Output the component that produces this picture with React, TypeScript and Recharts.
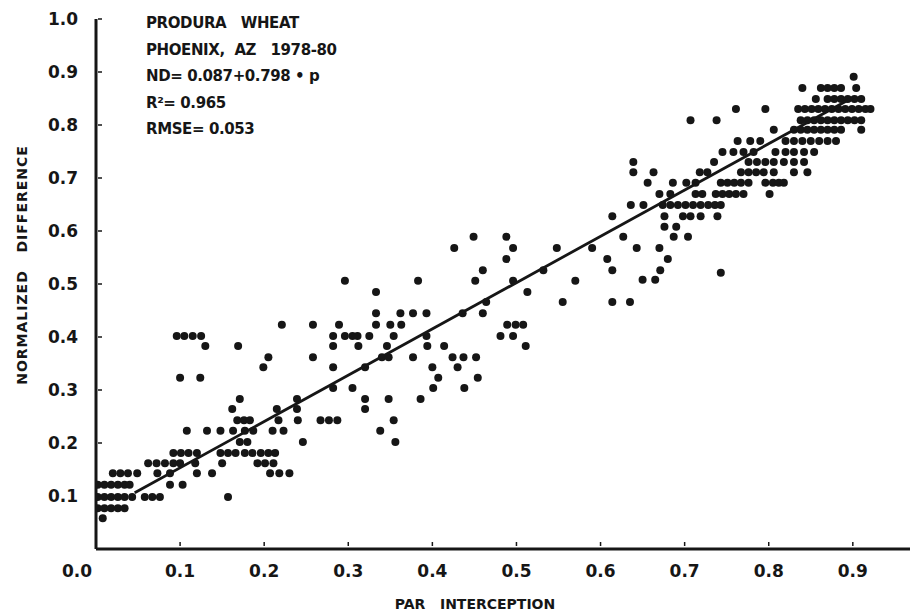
import { ScatterChart, Scatter, XAxis, YAxis, Label } from 'recharts';

const xTicks = [0, 0.1, 0.2, 0.3, 0.4, 0.5, 0.6, 0.7, 0.8, 0.9];
const yTicks = [0.1, 0.2, 0.3, 0.4, 0.5, 0.6, 0.7, 0.8, 0.9, 1.0];

const noteLines = [
  'PRODURA   WHEAT',
  'PHOENIX,  AZ   1978-80',
  'ND= 0.087+0.798 • p',
  'R²= 0.965',
  'RMSE= 0.053',
];

// rows: [ND, PAR values plotted at that ND]
const lowParRows: [number, number[]][] = [
  [0.058, [0.008]],
  [0.077, [0.002, 0.01, 0.018, 0.026, 0.034]],
  [0.098, [0.002, 0.01, 0.018, 0.026, 0.034, 0.043, 0.058, 0.067, 0.076, 0.157]],
  [0.121, [0.002, 0.01, 0.018, 0.026, 0.034, 0.04, 0.088, 0.103]],
  [0.143, [0.02, 0.029, 0.038, 0.049, 0.073, 0.088, 0.12, 0.138, 0.207, 0.218, 0.23]],
  [0.162, [0.062, 0.072, 0.082, 0.092, 0.1, 0.118, 0.15, 0.192, 0.201, 0.211]],
  [0.181, [0.092, 0.101, 0.11, 0.12, 0.148, 0.157, 0.166, 0.177, 0.186, 0.196, 0.205, 0.213]],
  [0.202, [0.171, 0.18, 0.246]],
  [0.223, [0.108, 0.132, 0.148, 0.163, 0.177, 0.187, 0.21, 0.223]],
  [0.243, [0.168, 0.176, 0.183, 0.217, 0.24]],
  [0.264, [0.162, 0.215, 0.239]],
  [0.283, [0.171, 0.239]],
  [0.323, [0.1, 0.124]],
  [0.343, [0.199]],
  [0.362, [0.205]],
  [0.383, [0.13, 0.169]],
  [0.402, [0.096, 0.105, 0.115, 0.125]],
  [0.423, [0.221]],
];

const midParRows: [number, number[]][] = [
  [0.202, [0.356]],
  [0.223, [0.338]],
  [0.243, [0.267, 0.277, 0.287, 0.354]],
  [0.264, [0.32]],
  [0.283, [0.32, 0.348, 0.386]],
  [0.304, [0.282, 0.305, 0.401, 0.438]],
  [0.323, [0.407, 0.454]],
  [0.343, [0.282, 0.32, 0.4, 0.43]],
  [0.362, [0.258, 0.34, 0.348, 0.377, 0.424, 0.437, 0.452]],
  [0.383, [0.282, 0.312, 0.346, 0.394, 0.414, 0.511]],
  [0.402, [0.282, 0.296, 0.305, 0.311, 0.325, 0.354, 0.393, 0.481, 0.496]],
  [0.423, [0.258, 0.289, 0.333, 0.35, 0.363, 0.489, 0.499, 0.508]],
  [0.445, [0.333, 0.362, 0.377, 0.393, 0.436, 0.46]],
  [0.466, [0.464, 0.555]],
  [0.485, [0.333, 0.513]],
  [0.506, [0.296, 0.383, 0.451, 0.496, 0.57]],
  [0.526, [0.46, 0.532]],
  [0.547, [0.488]],
  [0.568, [0.426, 0.496, 0.548, 0.59]],
  [0.589, [0.449, 0.488]],
];

const highParRows: [number, number[]][] = [
  [0.466, [0.614, 0.635]],
  [0.508, [0.65, 0.665]],
  [0.521, [0.743]],
  [0.526, [0.614, 0.671]],
  [0.547, [0.608, 0.68]],
  [0.568, [0.643, 0.67]],
  [0.589, [0.627, 0.687, 0.704]],
  [0.608, [0.676, 0.69]],
  [0.628, [0.614, 0.676, 0.698, 0.707, 0.719, 0.739]],
  [0.649, [0.636, 0.651, 0.674, 0.683, 0.692, 0.701, 0.71, 0.719, 0.728, 0.736, 0.743]],
  [0.67, [0.67, 0.683, 0.713, 0.721, 0.737, 0.745, 0.753, 0.761, 0.77, 0.801]],
  [0.691, [0.656, 0.686, 0.702, 0.713, 0.743, 0.751, 0.759, 0.767, 0.776, 0.796, 0.805, 0.812, 0.818]],
  [0.711, [0.639, 0.663, 0.718, 0.727, 0.767, 0.776, 0.785, 0.794, 0.806, 0.83, 0.846]],
  [0.73, [0.639, 0.735, 0.776, 0.786, 0.796, 0.806, 0.818, 0.83, 0.842]],
  [0.749, [0.745, 0.758, 0.77, 0.782, 0.808, 0.82, 0.83, 0.842, 0.854]],
  [0.77, [0.763, 0.778, 0.79, 0.82, 0.83, 0.84, 0.85, 0.86, 0.87, 0.88]],
  [0.791, [0.806, 0.83, 0.838, 0.846, 0.854, 0.862, 0.87, 0.878, 0.886, 0.91]],
  [0.809, [0.707, 0.738, 0.838, 0.846, 0.854, 0.862, 0.87, 0.878, 0.886, 0.894, 0.902, 0.91]],
  [0.83, [0.761, 0.796, 0.835, 0.843, 0.851, 0.859, 0.867, 0.875, 0.883, 0.891, 0.899, 0.907, 0.915, 0.921]],
  [0.849, [0.856, 0.87, 0.878, 0.886, 0.894, 0.902, 0.91]],
  [0.87, [0.84, 0.862, 0.87, 0.878, 0.886, 0.904]],
  [0.891, [0.901]],
];

// regression line as drawn on the scan (end points)
const fitLine = [
  { p: 0.046, nd: 0.106 },
  { p: 0.9, nd: 0.852 },
];

const INK = '#161616';
const FONT = '"DejaVu Sans", sans-serif';

function toPoints(rows: [number, number[]][]) {
  return rows.flatMap(([nd, ps]) => ps.map((p) => ({ p, nd })));
}

function Dot(props: any) {
  const { cx, cy } = props;
  if (cx == null || cy == null) return <g />;
  return <circle cx={cx} cy={cy} r={4} fill={INK} />;
}

function XTick(props: any) {
  const { x, y, payload } = props;
  const v = payload.value as number;
  return (
    <g>
      {v > 0 && <line x1={x} x2={x} y1={y - 7} y2={y - 3} stroke={INK} strokeWidth={1.5} />}
      <text
        x={x + (v === 0 ? -19 : 0)}
        y={y + 28}
        textAnchor="middle"
        fontFamily={FONT}
        fontWeight="bold"
        fontSize={17}
        fill={INK}
      >
        {v.toFixed(1)}
      </text>
    </g>
  );
}

function YTick(props: any) {
  const { x, y, payload } = props;
  const v = payload.value as number;
  return (
    <g>
      <line x1={x + 20} x2={x + 24} y1={y} y2={y} stroke={INK} strokeWidth={1.5} />
      <text
        x={x}
        y={y + 6}
        textAnchor="end"
        fontFamily={FONT}
        fontWeight="bold"
        fontSize={17}
        fill={INK}
      >
        {v.toFixed(1)}
      </text>
    </g>
  );
}

function YTitle(props: any) {
  const { viewBox } = props;
  const cx = viewBox.x + 22;
  const cy = viewBox.y + viewBox.height / 2 - 19;
  return (
    <text
      x={cx}
      y={cy}
      transform={`rotate(-90 ${cx} ${cy})`}
      textAnchor="middle"
      dominantBaseline="central"
      fontFamily={FONT}
      fontWeight="bold"
      fontSize={14}
      letterSpacing={1}
      fill={INK}
      style={{ whiteSpace: 'pre' }}
    >
      NORMALIZED   DIFFERENCE
    </text>
  );
}

function XTitle(props: any) {
  const { viewBox } = props;
  const cx = viewBox.x + viewBox.width / 2 - 28;
  return (
    <text
      x={cx}
      y={viewBox.y + 60}
      textAnchor="middle"
      fontFamily={FONT}
      fontWeight="bold"
      fontSize={14}
      fill={INK}
      style={{ whiteSpace: 'pre' }}
    >
      PAR   INTERCEPTION
    </text>
  );
}

export default function App() {
  return (
    <div style={{ position: 'absolute', left: 0, top: 0, width: 913, height: 615, background: '#fff' }}>
      <ScatterChart width={913} height={615} margin={{ top: 19, right: 3, bottom: 0, left: 0 }}>
        <XAxis
          type="number"
          dataKey="p"
          domain={[0, 0.968]}
          ticks={xTicks}
          interval={0}
          allowDataOverflow
          height={66}
          tickSize={0}
          tickMargin={0}
          tickLine={false}
          axisLine={{ stroke: INK, strokeWidth: 3 }}
          tick={<XTick />}
        >
          <Label content={<XTitle />} />
        </XAxis>
        <YAxis
          type="number"
          dataKey="nd"
          domain={[0, 1]}
          ticks={yTicks}
          interval={0}
          allowDataOverflow
          width={96}
          tickSize={0}
          tickMargin={18}
          tickLine={false}
          axisLine={{ stroke: INK, strokeWidth: 3 }}
          tick={<YTick />}
        >
          <Label content={<YTitle />} />
        </YAxis>
        <Scatter data={toPoints(lowParRows)} shape={<Dot />} isAnimationActive={false} />
        <Scatter data={toPoints(midParRows)} shape={<Dot />} isAnimationActive={false} />
        <Scatter data={toPoints(highParRows)} shape={<Dot />} isAnimationActive={false} />
        <Scatter
          data={fitLine}
          line={{ stroke: INK, strokeWidth: 2.8 }}
          shape={() => <g />}
          isAnimationActive={false}
        />
      </ScatterChart>
      <svg
        width={913}
        height={150}
        style={{ position: 'absolute', left: 0, top: 0, pointerEvents: 'none' }}
      >
        {noteLines.map((t, i) => (
          <text
            key={t}
            x={146}
            y={28 + i * 26.5}
            fontFamily={FONT}
            fontWeight="bold"
            fontSize={15}
            letterSpacing={-0.4}
            fill={INK}
            style={{ whiteSpace: 'pre' }}
          >
            {t}
          </text>
        ))}
      </svg>
    </div>
  );
}
